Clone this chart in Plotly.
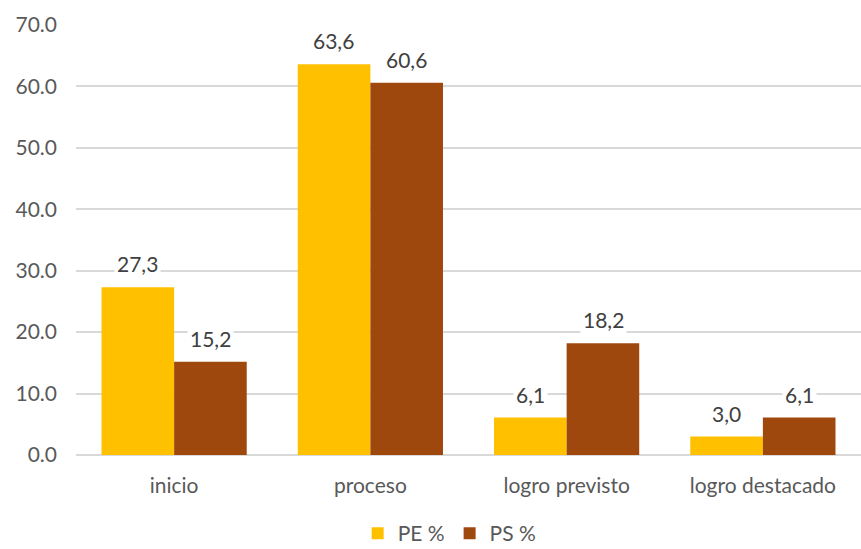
import plotly.graph_objects as go

categories = ["inicio", "proceso", "logro previsto", "logro destacado"]
pe_values = [27.3, 63.6, 6.1, 3.0]
ps_values = [15.2, 60.6, 18.2, 6.1]
series_names = ["PE %", "PS %"]
colors = ["#FFC000", "#9E480E"]
y_ticks = [0, 10, 20, 30, 40, 50, 60, 70]
y_tick_labels = ["0.0", "10.0", "20.0", "30.0", "40.0", "50.0", "60.0", "70.0"]

font_family = "Lato, 'Open Sans', sans-serif"

fig = go.Figure()
for name, vals, col in zip(series_names, [pe_values, ps_values], colors):
    fig.add_trace(go.Bar(name=name, x=categories, y=vals, marker_color=col,
                         marker_line_width=0))

annotations = []
for vals, shift in [(pe_values, -36.5), (ps_values, 36.5)]:
    for c, v in zip(categories, vals):
        annotations.append(dict(
            x=c, y=v, xref="x", yref="y", xshift=shift, yshift=8,
            text=f"{v:.1f}".replace(".", ","), showarrow=False,
            yanchor="bottom", bgcolor="white", borderpad=2,
            font=dict(family=font_family, size=21, color="#404040")))

fig.update_layout(
    width=861, height=549,
    margin=dict(l=76, r=0, t=25, b=94, autoexpand=False),
    paper_bgcolor="white", plot_bgcolor="white",
    barmode="group", bargap=0.26, bargroupgap=0,
    font=dict(family=font_family, size=21, color="#595959"),
    annotations=annotations,
    showlegend=True,
    legend=dict(orientation="h", x=0.476, xanchor="center",
                yref="container", y=0.028, yanchor="middle",
                font=dict(size=21, color="#595959"), itemwidth=30,
                traceorder="normal"),
    xaxis=dict(showline=False, ticks="", automargin=False, ticklabelstandoff=16,
               tickfont=dict(size=21, color="#595959")),
    yaxis=dict(range=[0, 70], tickvals=y_ticks, ticktext=y_tick_labels,
               showgrid=True, gridcolor="#D9D9D9", gridwidth=1.5,
               zeroline=True, zerolinecolor="#D9D9D9", zerolinewidth=1.5,
               ticks="", ticklen=0, ticklabelstandoff=18, automargin=False,
               tickfont=dict(size=21, color="#595959")),
)

fig.write_html("out.html")
